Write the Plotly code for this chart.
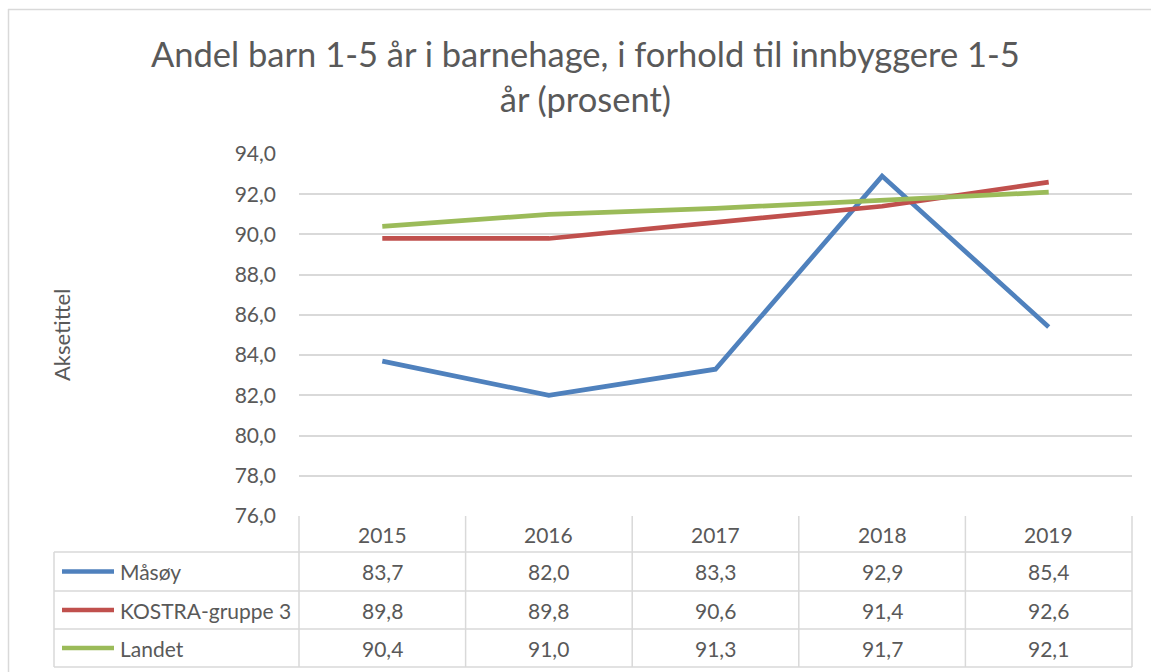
import plotly.graph_objects as go

# ---------------- data ----------------
years = ["2015", "2016", "2017", "2018", "2019"]
series_names = ["Måsøy", "KOSTRA-gruppe 3", "Landet"]
masoy = [83.7, 82.0, 83.3, 92.9, 85.4]
kostra = [89.8, 89.8, 90.6, 91.4, 92.6]
landet = [90.4, 91.0, 91.3, 91.7, 92.1]
y_ticks = [76, 78, 80, 82, 84, 86, 88, 90, 92, 94]
title_text = "Andel barn 1-5 år i barnehage, i forhold til innbyggere 1-5<br>år (prosent)"
y_title = "Aksetittel"

series_values = [masoy, kostra, landet]
colors = ["#4F81BD", "#C0504D", "#9BBB59"]

# ---------------- layout geometry (pixels) ----------------
W, H = 1151, 672
FONT = "Lato"
TXT = "#595959"
GRID = "#D9D9D9"

def px(x):
    return x / W

def py(y):
    return 1 - y / H

plot_x0, plot_x1 = 299, 1132
plot_top, plot_bot = 154, 516
row_bounds = [516, 552, 591, 629, 667]
table_left = 54

fig = go.Figure()
for name, vals, c in zip(series_names, series_values, colors):
    fig.add_trace(go.Scatter(x=years, y=vals, mode="lines", name=name,
                             line=dict(color=c, width=4.7),
                             showlegend=False, hoverinfo="x+y+name"))

shapes = []
annotations = []

def hline(x0, x1, y):
    shapes.append(dict(type="line", xref="paper", yref="paper",
                       x0=px(x0), x1=px(x1), y0=py(y), y1=py(y),
                       line=dict(color=GRID, width=1.5)))

def vline(x, y0, y1):
    shapes.append(dict(type="line", xref="paper", yref="paper",
                       x0=px(x), x1=px(x), y0=py(y0), y1=py(y1),
                       line=dict(color=GRID, width=1.5)))

for yb in row_bounds[1:]:
    hline(table_left, plot_x1, yb)

n = len(years)
colw = (plot_x1 - plot_x0) / n
vline(table_left, row_bounds[1], row_bounds[-1])
for k in range(n + 1):
    vline(plot_x0 + k * colw, row_bounds[0], row_bounds[-1])

# header years
for k, yr in enumerate(years):
    cx = plot_x0 + (k + 0.5) * colw
    annotations.append(dict(xref="paper", yref="paper", x=px(cx),
                            y=py((row_bounds[0] + row_bounds[1]) / 2),
                            text=yr, showarrow=False,
                            font=dict(family=FONT, size=21, color=TXT),
                            xanchor="center", yanchor="middle"))

# rows
for r, (name, vals, c) in enumerate(zip(series_names, series_values, colors)):
    cy = (row_bounds[r + 1] + row_bounds[r + 2]) / 2
    shapes.append(dict(type="line", xref="paper", yref="paper",
                       x0=px(62), x1=px(114), y0=py(cy), y1=py(cy),
                       line=dict(color=c, width=4.7)))
    annotations.append(dict(xref="paper", yref="paper", x=px(118), y=py(cy),
                            text=name, showarrow=False,
                            font=dict(family=FONT, size=21, color=TXT),
                            xanchor="left", yanchor="middle"))
    for k, v in enumerate(vals):
        cx = plot_x0 + (k + 0.5) * colw
        annotations.append(dict(xref="paper", yref="paper", x=px(cx), y=py(cy),
                                text=f"{v:.1f}".replace(".", ","), showarrow=False,
                                font=dict(family=FONT, size=21, color=TXT),
                                xanchor="center", yanchor="middle"))

# chart border
shapes.append(dict(type="line", xref="paper", yref="paper",
                   x0=px(8), x1=px(W + 5), y0=py(9.5), y1=py(9.5),
                   line=dict(color=GRID, width=1.5)))
shapes.append(dict(type="line", xref="paper", yref="paper",
                   x0=px(8.5), x1=px(8.5), y0=py(9), y1=py(H + 5),
                   line=dict(color=GRID, width=1.5)))

# title
annotations.append(dict(xref="paper", yref="paper", x=px(585), y=py(76),
                        text=title_text, showarrow=False,
                        font=dict(family=FONT, size=34.5, color=TXT),
                        xanchor="center", yanchor="middle", align="center"))
# y-axis title
annotations.append(dict(xref="paper", yref="paper", x=px(61), y=py(335),
                        text=y_title, showarrow=False, textangle=-90,
                        font=dict(family=FONT, size=22, color=TXT),
                        xanchor="center", yanchor="middle"))

fig.update_layout(
    width=W, height=H,
    margin=dict(l=0, r=0, t=0, b=0, autoexpand=False),
    paper_bgcolor="white", plot_bgcolor="white",
    shapes=shapes, annotations=annotations,
    xaxis=dict(type="category", range=[-0.5, n - 0.5],
               domain=[px(plot_x0), px(plot_x1)], automargin=False,
               showticklabels=False, showgrid=False, zeroline=False,
               showline=False, ticks=""),
    yaxis=dict(range=[y_ticks[0], y_ticks[-1]],
               domain=[py(plot_bot), py(plot_top)], automargin=False,
               tickvals=y_ticks,
               ticktext=[f"{t:.1f}".replace(".", ",") for t in y_ticks],
               showgrid=True, gridcolor=GRID, gridwidth=1.5,
               zeroline=False, showline=False, ticks="",
               ticklabelstandoff=22,
               tickfont=dict(family=FONT, size=21, color=TXT)),
)

fig.write_html("out.html", config={"displayModeBar": False},
               post_script="document.body.style.margin='0';document.body.style.overflow='hidden';")
